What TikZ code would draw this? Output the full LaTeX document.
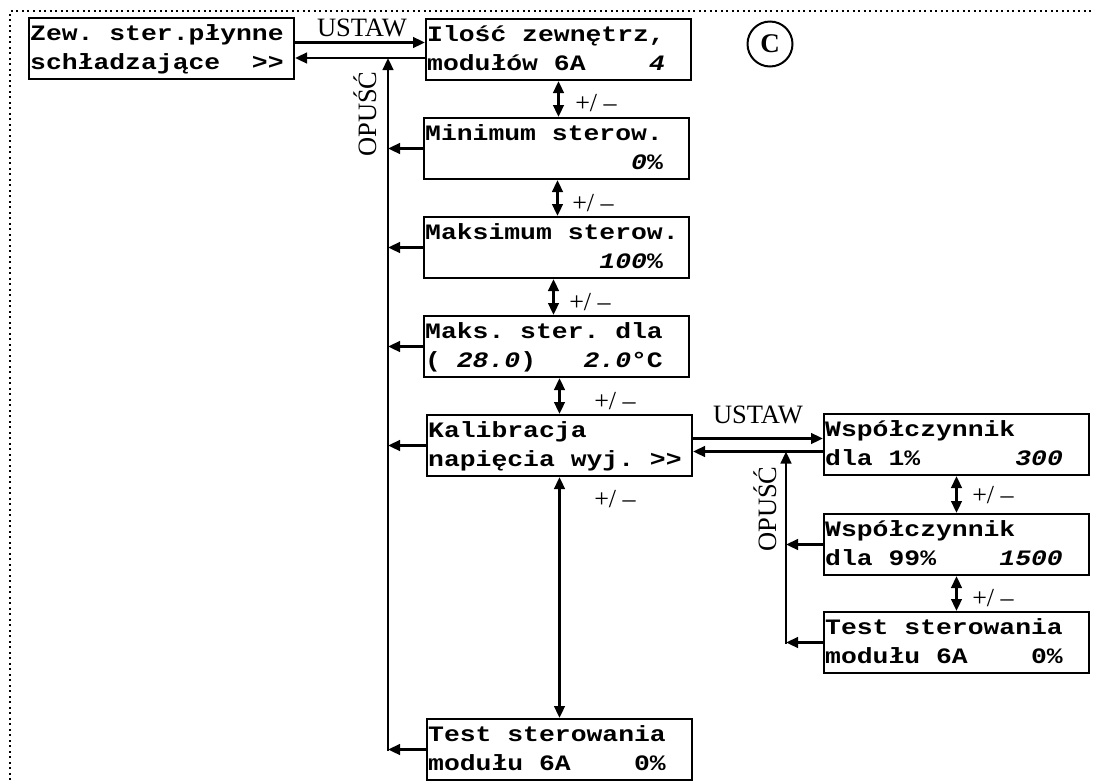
\documentclass[tikz,border=0pt]{standalone}
\usepackage{fontspec}
\setmainfont{Liberation Serif}
\newfontfamily\lcdfont[FakeStretch=1.2]{Liberation Mono}
\usetikzlibrary{arrows.meta}
\newcommand\lsp{\hphantom{0}}
\newcommand\lnum[1]{{\itshape #1}}
\newcommand\lcdpanel[5]{%
  \node[lcdbox] (#1) at (#2,#3) {};
  \node[lcdtxt] (#1-a) at ([xshift=2pt,yshift=-23pt]#1.north west) {#4};
  \node[lcdtxt] (#1-b) at ([xshift=2pt,yshift=-52pt]#1.north west) {#5};
}
\tikzset{
  lcdbox/.style={draw, line width=2pt, inner sep=0pt, minimum width=265pt, minimum height=61pt, anchor=north west},
  lcdtxt/.style={inner sep=0pt, anchor=base west, font=\lcdfont\bfseries\fontsize{22}{22}\selectfont},
  conn/.style={line width=2.7pt},
  arr/.style={conn, -{Triangle[length=12pt,width=10.5pt]}},
  darr/.style={conn, {Triangle[length=12pt,width=10.5pt]}-{Triangle[length=12pt,width=10.5pt]}},
  lbl/.style={font=\fontsize{26.5}{26.5}\selectfont, inner sep=0pt},
  pm/.style={font=\fontsize{26}{26}\selectfont, inner sep=0pt},
}
\begin{document}
\begin{tikzpicture}[x=1pt,y={(0pt,-1pt)}]
\useasboundingbox (0,0) rectangle (1095,780);
% frame
\draw[line width=2pt, dash pattern=on 2pt off 3.5pt] (10,780) -- (10,11) -- (1095,11);
% panels
\lcdpanel{b1}{28}{17}{Zew.\lsp ster.płynne}{schładzające\lsp\lsp>\kern0pt>}
\lcdpanel{b2}{425}{18}{Ilość\lsp zewnętrz,}{modułów\lsp 6A\lsp\lsp\lsp\lsp\lnum{4}}
\lcdpanel{b3}{423}{117}{Minimum\lsp sterow.}{\lsp\lsp\lsp\lsp\lsp\lsp\lsp\lsp\lsp\lsp\lsp\lsp\lsp\lnum{0}\%}
\lcdpanel{b4}{423}{216}{Maksimum\lsp sterow.}{\lsp\lsp\lsp\lsp\lsp\lsp\lsp\lsp\lsp\lsp\lsp\lnum{100}\%}
\lcdpanel{b5}{423}{315}{Maks.\lsp ster.\lsp dla}{(\lsp\lnum{28.0})\lsp\lsp\lsp\lnum{2.0}°C}
\lcdpanel{b6}{426}{414}{Kalibracja}{napięcia\lsp wyj.\lsp>\kern0pt>}
\lcdpanel{b7}{426}{718}{Test\lsp sterowania}{modułu\lsp 6A\lsp\lsp\lsp\lsp0\%}
\lcdpanel{r1}{823}{413}{Współczynnik}{dla\lsp 1\%\lsp\lsp\lsp\lsp\lsp\lsp\lnum{300}}
\lcdpanel{r2}{823}{513}{Współczynnik}{dla\lsp 99\%\lsp\lsp\lsp\lsp\lnum{1500}}
\lcdpanel{r3}{823}{611}{Test\lsp sterowania}{modułu\lsp 6A\lsp\lsp\lsp\lsp0\%}
% circle
\node[draw, circle, line width=2pt, minimum size=45pt, inner sep=0pt, font=\bfseries\fontsize{27}{27}\selectfont] (c) at (770,44) {C};
% helper coordinates
\coordinate (L) at (388,0);
\coordinate (R) at (786,0);
\coordinate (ret1) at ([yshift=-8.5pt]b2.west);
\coordinate (ret2) at ([yshift=-7pt]r1.west);
% top connectors
\draw[arr] ([yshift=6pt]b1.east) -- ([yshift=6pt]b1.east -| b2.west);
\draw[arr] (ret1) -- (ret1 -| b1.east);
\draw[arr] ([yshift=-1.35pt]L |- b7.west) -- (L |- ret1);
\foreach \b in {b3,b4,b5,b6,b7} { \draw[arr] (\b.west) -- (L |- \b.west); }
% up/down
\draw[darr] (b2.south) -- (b2.south |- b3.north);
\draw[darr] ([xshift=1pt]b3.south) -- ([xshift=1pt]b3.south |- b4.north);
\draw[darr] ([xshift=-3pt]b4.south) -- ([xshift=-3pt]b4.south |- b5.north);
\draw[darr] ([xshift=3pt]b5.south) -- ([xshift=3pt]b5.south |- b6.north);
\draw[darr] (b6.south) -- (b6.south |- b7.north);
% right group
\draw[arr] ([yshift=7pt]b6.east) -- ([yshift=7pt]b6.east -| r1.west);
\draw[arr] (ret2) -- (ret2 -| b6.east);
\draw[arr] ([yshift=-1.35pt]R |- r3.west) -- (R |- ret2);
\foreach \b in {r2,r3} { \draw[arr] (\b.west) -- (R |- \b.west); }
\draw[darr] (r1.south) -- (r1.south |- r2.north);
\draw[darr] (r2.south) -- (r2.south |- r3.north);
% labels
\node[lbl, anchor=base] (u1) at (362,36) {USTAW};
\node[lbl, anchor=base] (u2) at (758,423) {USTAW};
\node[lbl, rotate=90, anchor=base west] (o1) at (376,157) {OPUŚĆ};
\node[lbl, rotate=90, anchor=base west] (o2) at (776,552) {OPUŚĆ};
\node[pm] (p1) at (596,103) {+/ –};
\node[pm] (p2) at (593,203) {+/ –};
\node[pm] (p3) at (590,302) {+/ –};
\node[pm] (p4) at (615,401) {+/ –};
\node[pm] (p5) at (615,499) {+/ –};
\node[pm] (p6) at (993,495) {+/ –};
\node[pm] (p7) at (993,598) {+/ –};
\end{tikzpicture}
\end{document}
